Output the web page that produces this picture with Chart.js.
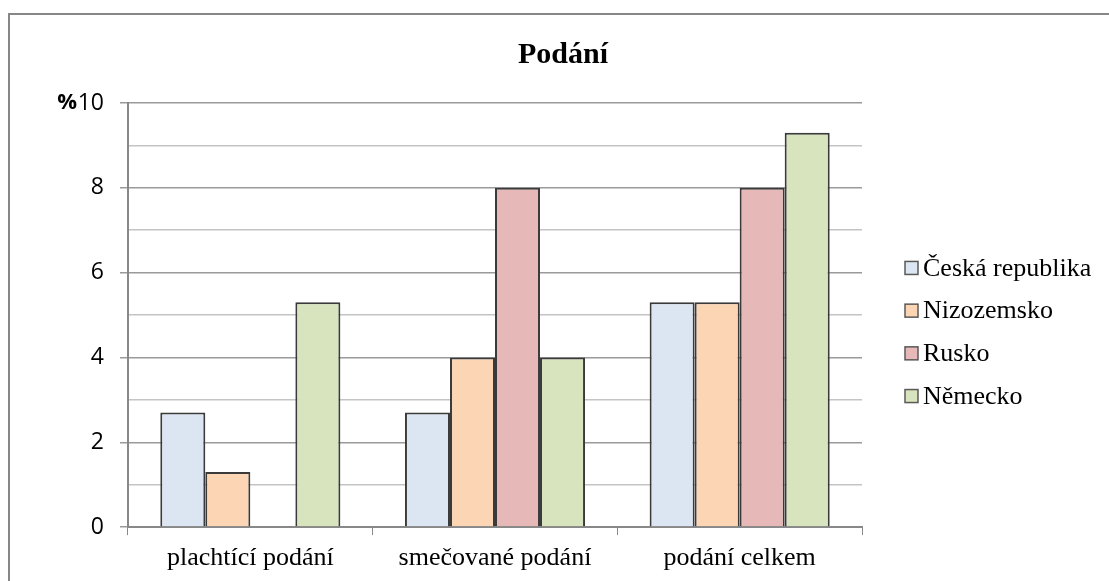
<!DOCTYPE html>
<html>
  <head>
    <meta charset="utf-8">
    <title>ChartJS - Podání</title>
    <style>
      body { margin: 0; background: #fff; overflow: hidden; }
      .frame {
        position: absolute; left: 8px; top: 13px;
        width: 1200px; height: 700px;
        border: 2px solid #878787;
      }
      .chart-container {
        position: absolute; left: 0; top: 0;
        width: 1109px; height: 581px;
      }
    </style>
  </head>
  <body>
    <div class="frame"></div>
    <div class="chart-container">
      <canvas id="mycanvas" width="1109" height="581"></canvas>
    </div>

    <script src="https://cdn.jsdelivr.net/npm/chart.js@4/dist/chart.umd.min.js"></script>
    <script>
      // data
      var chartTitle = "Podání";
      var unitLabel = "%";
      var categories = ["plachtící podání", "smečované podání", "podání celkem"];
      var seriesNames = ["Česká republika", "Nizozemsko", "Rusko", "Německo"];
      var ceskaRepublika = [2.7, 2.7, 5.3];
      var nizozemsko = [1.3, 4.0, 5.3];
      var rusko = [0, 8.0, 8.0];
      var nemecko = [5.3, 4.0, 9.3];
      var yTicks = [0, 2, 4, 6, 8, 10];

      var fills = ["#dce6f2", "#fcd5b5", "#e6b9b8", "#d7e4bd"];
      var serifFont = "'Liberation Serif', 'Times New Roman', serif";
      var sansFont = "'Open Sans', 'Noto Sans', sans-serif";

      var values = [ceskaRepublika, nizozemsko, rusko, nemecko];
      var datasets = [];
      for (var i = 0; i < values.length; i++) {
        datasets.push({
          label: seriesNames[i],
          data: values[i],
          backgroundColor: fills[i],
          borderColor: "#3a3a3a",
          borderWidth: 2,
          categoryPercentage: 0.736,
          barPercentage: 1.0
        });
      }

      // title, % sign and legend drawn next to the plot
      var extras = {
        id: "extras",
        afterDraw: function(chart) {
          var ctx = chart.ctx;
          var yScale = chart.scales.y;
          ctx.save();
          ctx.fillStyle = "#000";
          ctx.font = "bold 30px " + serifFont;
          ctx.textAlign = "center";
          ctx.textBaseline = "middle";
          ctx.fillText(chartTitle, 563, 55);

          ctx.font = "bold 22px " + sansFont;
          ctx.textAlign = "right";
          ctx.fillText(unitLabel, 77, yScale.getPixelForValue(10));

          var items = chart.data.datasets;
          var cy = 332, step = 42.7;
          ctx.font = "26px " + serifFont;
          ctx.textAlign = "left";
          for (var k = 0; k < items.length; k++) {
            var y = cy + (k - (items.length - 1) / 2) * step;
            ctx.fillStyle = items[k].backgroundColor;
            ctx.fillRect(905, y - 6.5, 13, 13);
            ctx.strokeStyle = "#595959";
            ctx.lineWidth = 1.5;
            ctx.strokeRect(905, y - 6.5, 13, 13);
            ctx.fillStyle = "#000";
            ctx.fillText(items[k].label, 923, y + 1);
          }
          ctx.restore();
        }
      };

      var ctx = document.getElementById("mycanvas");

      var BarGraph = new Chart(ctx, {
        type: "bar",
        data: { labels: categories, datasets: datasets },
        plugins: [extras],
        options: {
          responsive: false,
          animation: false,
          layout: { padding: { left: 60, right: 247, top: 103, bottom: 0 } },
          plugins: {
            legend: { display: false },
            title: { display: false },
            tooltip: { enabled: false }
          },
          scales: {
            x: {
              grid: {
                offset: true,
                drawOnChartArea: false,
                tickLength: 8,
                color: "#888"
              },
              border: { color: "#888", width: 2 },
              ticks: {
                autoSkip: false,
                maxRotation: 0,
                minRotation: 0,
                color: "#000",
                padding: 8,
                font: { family: serifFont, size: 26, lineHeight: 1.15 }
              }
            },
            y: {
              min: 0,
              max: 10,
              afterFit: function(scale) { scale.width = 68; },
              grid: {
                tickLength: 8,
                lineWidth: 1.5,
                color: function(c) {
                  return c.tick && c.tick.value % 2 === 0 ? "#9a9a9a" : "#c4c4c4";
                },
                tickColor: function(c) {
                  return c.tick && c.tick.value % 2 === 0 ? "#9a9a9a" : "rgba(0,0,0,0)";
                }
              },
              border: { color: "#888", width: 2 },
              ticks: {
                stepSize: 1,
                padding: 16,
                color: "#000",
                font: { family: sansFont, size: 23 },
                callback: function(value) {
                  return yTicks.indexOf(value) >= 0 ? value : "";
                }
              }
            }
          }
        }
      });
    </script>
  </body>
</html>
